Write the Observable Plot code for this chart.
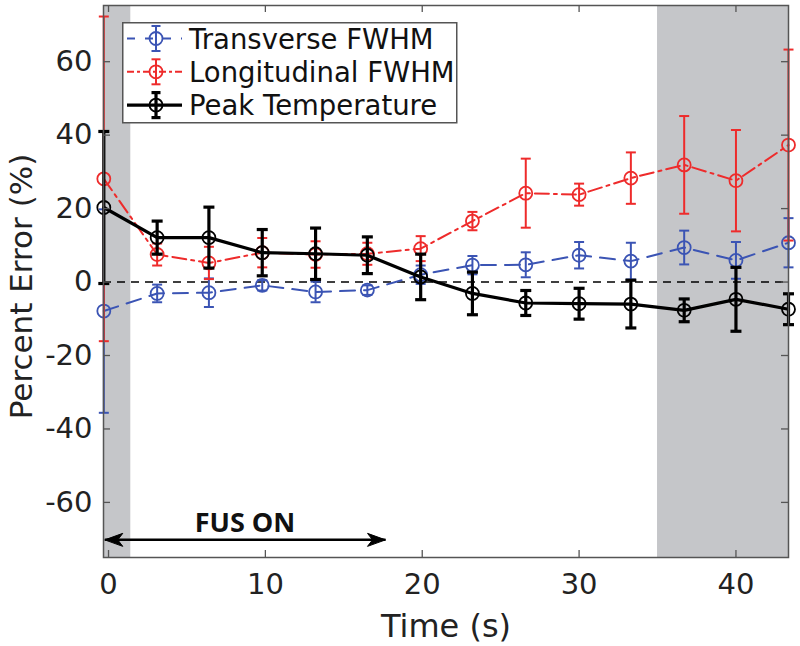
<!DOCTYPE html>
<html><head><meta charset="utf-8">
<script src="https://cdn.jsdelivr.net/npm/d3@7"></script>
<script src="https://cdn.jsdelivr.net/npm/@observablehq/plot@0.6"></script>
<style>
body{margin:0;background:#fff;font-family:"DejaVu Sans",sans-serif}
#wrap{position:relative;width:800px;height:646px}
#legend{position:absolute;left:122px;top:22px}
</style></head><body><div id="wrap"></div>
<script>
// ---- data ----
const time = [-0.3, 3.1, 6.4, 9.8, 13.2, 16.5, 19.9, 23.2, 26.6, 30.0, 33.3, 36.7, 40.0, 43.35];
const transverse = [-7.9, -3.1, -2.9, -0.9, -2.7, -2.2, 2.0, 4.6, 4.7, 7.3, 5.7, 9.4, 5.9, 10.7];
const transverseErr = [27.7, 2.4, 3.9, 1.4, 2.8, 1.3, 2.5, 2.5, 3.4, 3.6, 5.0, 4.6, 5.0, 6.7];
const longitudinal = [28.1, 7.5, 5.2, 8.0, 7.5, 7.7, 9.1, 16.6, 24.2, 23.8, 28.3, 31.9, 27.6, 37.3];
const longitudinalErr = [44.2, 3.0, 4.4, 4.0, 3.6, 3.0, 3.4, 2.5, 9.4, 3.0, 7.0, 13.3, 13.8, 26.0];
const peakTemp = [20.3, 12.1, 12.1, 8.0, 7.7, 7.3, 1.4, -3.1, -5.7, -5.9, -6.0, -7.7, -4.7, -7.4];
const peakTempErr = [20.7, 4.5, 8.3, 6.3, 7.0, 5.0, 6.2, 5.8, 3.4, 4.2, 6.5, 3.1, 8.7, 4.2];
const seriesNames = ["Transverse FWHM", "Longitudinal FWHM", "Peak Temperature"];
const shadeStart = [-0.32, 35.0];
const shadeEnd = [1.42, 43.35];
const xTicks = [0, 10, 20, 30, 40];
const yTicks = [-60, -40, -20, 0, 20, 40, 60];
const xDomain = [-0.32, 43.35];
const yDomain = [-75, 75.3];
const annotationText = ["FUS ON"];
const annotationX = [8.7];
const annotationY = [-65.6];
const arrowFrom = [-0.24];
const arrowTo = [17.66];
const arrowY = [-70.2];

// ---- styles ----
const colors = ["#3b54b4", "#ee2b2b", "#000000"];
const dashes = ["15,9", "14,5,3,5", null];
const widths = [2, 2, 3.2];
const W = 800, H = 646, mL = 103, mR = 12, mT = 5, mB = 89;
const innerW = W - mL - mR, innerH = H - mT - mB;
const axisColor = "#555";
const tickLen = 7;

const values = [transverse, longitudinal, peakTemp];
const errors = [transverseErr, longitudinalErr, peakTempErr];
const series = seriesNames.map((name, s) => time.map((t, i) => ({t, v: values[s][i], e: errors[s][i], name})));
const shades = shadeStart.map((a, i) => ({a, b: shadeEnd[i]}));

const capSymbol = (half) => ({draw(ctx) { ctx.moveTo(-half, 0); ctx.lineTo(half, 0); }});
const dart = {draw(ctx) { ctx.moveTo(0, 0); ctx.lineTo(-18, -6.5); ctx.lineTo(-13, 0); ctx.lineTo(-18, 6.5); ctx.closePath(); }};

const seriesMarks = series.flatMap((rows, s) => [
  Plot.line(rows, {x: "t", y: "v", stroke: colors[s], strokeWidth: widths[s], strokeDasharray: dashes[s]}),
  Plot.ruleX(rows, {x: "t", y1: d => d.v - d.e, y2: d => d.v + d.e, stroke: colors[s], strokeWidth: widths[s]}),
  Plot.dot(rows, {x: "t", y: d => d.v + d.e, symbol: capSymbol(s === 2 ? 5.5 : 5), r: 3, stroke: colors[s], strokeWidth: widths[s], fill: "none"}),
  Plot.dot(rows, {x: "t", y: d => d.v - d.e, symbol: capSymbol(s === 2 ? 5.5 : 5), r: 3, stroke: colors[s], strokeWidth: widths[s], fill: "none"}),
  Plot.dot(rows, {x: "t", y: "v", r: 6.5, stroke: colors[s], strokeWidth: 1.8, fill: "none"})
]);

const chart = Plot.plot({
  width: W, height: H,
  marginLeft: mL, marginRight: mR, marginTop: mT, marginBottom: mB,
  style: {fontFamily: "DejaVu Sans", background: "white", overflow: "visible"},
  x: {domain: xDomain},
  y: {domain: yDomain},
  marks: [
    Plot.rect(shades, {x1: "a", x2: "b", fill: "#c5c6c9"}),
    Plot.ruleY([0], {stroke: "#000", strokeWidth: 1.5, strokeDasharray: "8,6"}),
    ...seriesMarks,
    Plot.link(arrowFrom, {x1: d => d, x2: (d, i) => arrowTo[i], y1: (d, i) => arrowY[i], y2: (d, i) => arrowY[i], stroke: "#000", strokeWidth: 2.5}),
    Plot.dot(arrowTo, {x: d => d, y: (d, i) => arrowY[i], symbol: dart, r: 3, fill: "#000", stroke: "#000", strokeWidth: 1}),
    Plot.dot(arrowFrom, {x: d => d, y: (d, i) => arrowY[i], symbol: dart, r: 3, rotate: 180, fill: "#000", stroke: "#000", strokeWidth: 1}),
    Plot.text(annotationText, {x: (d, i) => annotationX[i], y: (d, i) => annotationY[i], text: d => d, fontFamily: "Open Sans", fontWeight: "bold", fontSize: 27, fill: "#111"}),
    Plot.frame({stroke: axisColor, strokeWidth: 1.5}),
    Plot.tickX(xTicks, {x: d => d, insetTop: innerH - tickLen, stroke: axisColor, strokeWidth: 1.3}),
    Plot.tickX(xTicks, {x: d => d, insetBottom: innerH - tickLen, stroke: axisColor, strokeWidth: 1.3}),
    Plot.tickY(yTicks, {y: d => d, insetRight: innerW - tickLen, stroke: axisColor, strokeWidth: 1.3}),
    Plot.tickY(yTicks, {y: d => d, insetLeft: innerW - tickLen, stroke: axisColor, strokeWidth: 1.3}),
    Plot.axisX({ticks: xTicks, tickSize: 0, tickPadding: 16, fontSize: 29, fill: "#222", tickFormat: d => String(d), label: null}),
    Plot.axisY({ticks: yTicks, tickSize: 0, tickPadding: 11, fontSize: 29, fill: "#222", tickFormat: d => String(d), label: null}),
    Plot.text(["Time (s)"], {frameAnchor: "bottom", lineAnchor: "middle", dy: 69, fontSize: 32, fill: "#222", text: d => d}),
    Plot.text(["Percent Error (%)"], {frameAnchor: "left", textAnchor: "middle", lineAnchor: "middle", rotate: -90, dx: -81, dy: 5, fontSize: 31, fill: "#222", text: d => d})
  ]
});
const wrap = document.getElementById("wrap");
wrap.appendChild(chart);

// ---- legend overlay ----
const ns = "http://www.w3.org/2000/svg";
const lg = document.createElementNS(ns, "svg");
lg.setAttribute("id", "legend");
lg.setAttribute("width", 336);
lg.setAttribute("height", 102);
const mk = (tag, attrs) => { const e = document.createElementNS(ns, tag); for (const k in attrs) e.setAttribute(k, attrs[k]); lg.appendChild(e); return e; };
mk("rect", {x: 0.75, y: 0.75, width: 334, height: 100, fill: "#fff", stroke: axisColor, "stroke-width": 1.5});
seriesNames.forEach((name, s) => {
  const cy = 16.5 + 33.3 * s;
  const cx = 34;
  const ln = mk("line", {x1: 5, x2: 60, y1: cy, y2: cy, stroke: colors[s], "stroke-width": widths[s]});
  if (dashes[s]) ln.setAttribute("stroke-dasharray", s === 0 ? "8,10" : "7,3,3,3");
  mk("line", {x1: cx, x2: cx, y1: cy - 12.5, y2: cy + 12.5, stroke: colors[s], "stroke-width": widths[s]});
  mk("line", {x1: cx - 4.5, x2: cx + 4.5, y1: cy - 12.5, y2: cy - 12.5, stroke: colors[s], "stroke-width": widths[s]});
  mk("line", {x1: cx - 4.5, x2: cx + 4.5, y1: cy + 12.5, y2: cy + 12.5, stroke: colors[s], "stroke-width": widths[s]});
  mk("circle", {cx, cy, r: 6.5, fill: "none", stroke: colors[s], "stroke-width": 1.8});
  const tx = mk("text", {x: 67, y: cy, "dominant-baseline": "central", "font-size": 27.5, "font-family": "DejaVu Sans", fill: "#111"});
  tx.textContent = name;
});
wrap.appendChild(lg);
</script></body></html>
